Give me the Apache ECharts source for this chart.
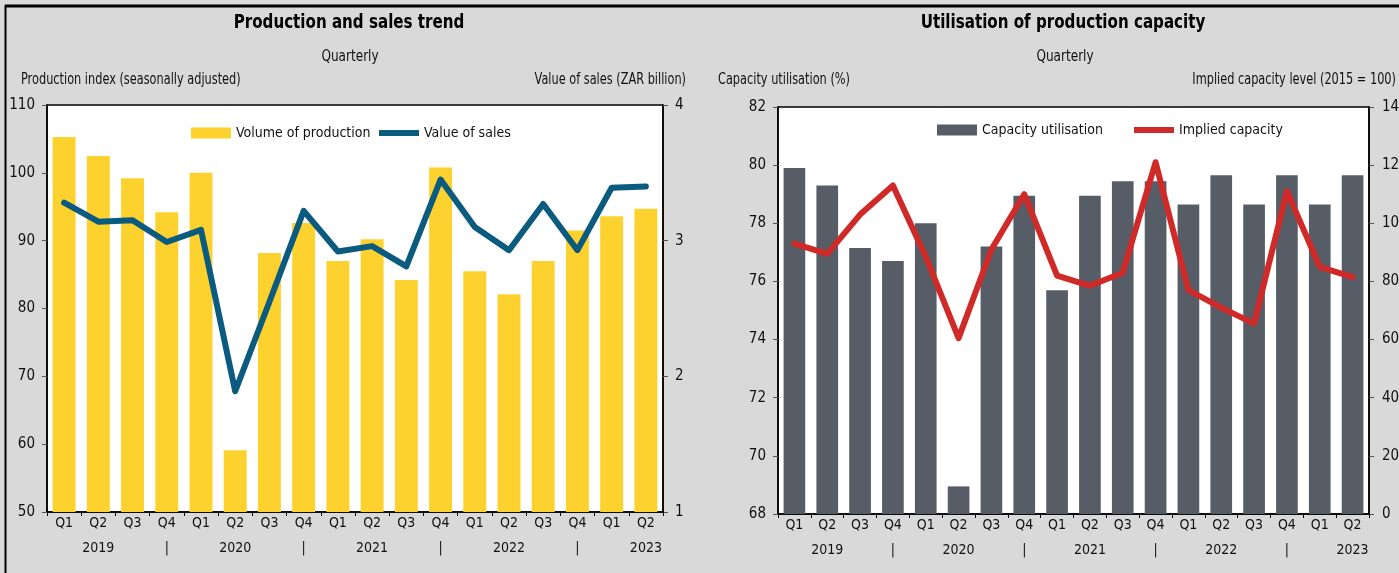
<!DOCTYPE html>
<html>
<head>
<meta charset="utf-8">
<title>Production, sales and capacity utilisation</title>
<script src="https://cdn.jsdelivr.net/npm/echarts@6/dist/echarts.min.js"></script>
<style>
  html, body { margin: 0; padding: 0; background: #d9d9d9; }
  #chart { width: 1399px; height: 573px; }
</style>
</head>
<body>
<div id="chart"></div>
<script>
// Quarterly periods, Q1 2019 to Q2 2023
const periods = ['2019Q1','2019Q2','2019Q3','2019Q4','2020Q1','2020Q2','2020Q3','2020Q4',
                 '2021Q1','2021Q2','2021Q3','2021Q4','2022Q1','2022Q2','2022Q3','2022Q4',
                 '2023Q1','2023Q2'];
const quarterLabels = ['Q1','Q2','Q3','Q4','Q1','Q2','Q3','Q4','Q1','Q2','Q3','Q4',
                       'Q1','Q2','Q3','Q4','Q1','Q2'];
const yearLabels = ['','2019','','|','','2020','','|','','2021','','|','','2022','','|','','2023'];

// Left panel: production volume index (SA) and value of sales (ZAR bn)
const productionVolume = [105.3, 102.5, 99.2, 94.2, 100.0, 59.1, 88.2, 92.6, 87.0,
                          90.2, 84.2, 100.8, 85.5, 82.1, 87.0, 91.5, 93.6, 94.7];
const salesValue = [3.28, 3.14, 3.15, 2.99, 3.08, 1.89, 2.55, 3.22, 2.92,
                    2.96, 2.81, 3.45, 3.10, 2.93, 3.27, 2.93, 3.39, 3.40];

// Right panel: capacity utilisation (%) and implied capacity level (2015 = 100)
const capacityUtilisation = [79.9, 79.3, 77.15, 76.7, 78.0, 68.95, 77.2, 78.95, 75.7,
                             78.95, 79.45, 79.45, 78.65, 79.65, 78.65, 79.65, 78.65, 79.65];
const impliedCapacity = [93, 89.5, 103, 113, 88.5, 60.5, 91, 110, 82,
                         78.5, 83, 121, 77, 71, 65.5, 111, 85, 81.5];

const FONT = "'Liberation Sans Narrow', 'Arial Narrow', 'DejaVu Sans Condensed', sans-serif";
const TXT = '#111';
const NARROW = 0.84;   // horizontal squeeze for heading text

function catAxis(gridIndex) {
  return {
    type: 'category', gridIndex, data: periods, boundaryGap: true,
    axisLine: { show: true, lineStyle: { color: '#000', width: 1.5 } },
    axisTick: { show: true, length: 4, lineStyle: { color: '#000' } },
    axisLabel: {
      color: TXT, fontFamily: FONT, fontSize: 14, lineHeight: 25, margin: -1,
      interval: 0,
      formatter: (v, i) => quarterLabels[i] + '\n' + (yearLabels[i] || ' ')
    }
  };
}

function valAxis(gridIndex, pos, min, max, interval, margin) {
  return {
    type: 'value', gridIndex, position: pos, min, max, interval,
    splitLine: { show: false },
    axisLine: { show: true, lineStyle: { color: '#000', width: 1.5 } },
    axisTick: { show: true, length: 5, lineStyle: { color: '#555' } },
    axisLabel: { color: TXT, fontFamily: FONT, fontSize: 15, margin }
  };
}

function heading(text, x, y, size, weight, align) {
  return {
    type: 'text', x, y, scaleX: NARROW, z: 50,
    style: {
      text, fill: weight === 'bold' ? '#000' : TXT,
      font: `${weight} ${size}px ${FONT}`,
      textAlign: align, textVerticalAlign: 'middle'
    }
  };
}

function legendItem(name, left, top, icon) {
  return {
    left, top, itemWidth: 40, itemHeight: 11,
    data: [{ name, icon }],
    textStyle: { fontFamily: FONT, fontSize: 14, color: TXT }
  };
}
const LINE_ICON = 'path://M0,0 L40,0 L40,6 L0,6 Z';

const chart = echarts.init(document.getElementById('chart'), null, { renderer: 'canvas' });

chart.setOption({
  backgroundColor: '#d9d9d9',
  animation: false,
  textStyle: { fontFamily: FONT },
  legend: [
    legendItem('Volume of production', 186, 121, 'rect'),
    legendItem('Value of sales', 374, 121, LINE_ICON),
    legendItem('Capacity utilisation', 932, 118, 'rect'),
    legendItem('Implied capacity', 1129, 118, LINE_ICON)
  ],
  grid: [
    { left: 47, top: 105, width: 616, height: 407, show: true, backgroundColor: '#fff',
      borderColor: '#000', borderWidth: 1.5, containLabel: false, outerBoundsMode: 'none' },
    { left: 778, top: 107, width: 591, height: 407, show: true, backgroundColor: '#fff',
      borderColor: '#000', borderWidth: 1.5, containLabel: false, outerBoundsMode: 'none' }
  ],
  xAxis: [catAxis(0), catAxis(1)],
  yAxis: [
    valAxis(0, 'left', 50, 110, 10, 12),
    valAxis(0, 'right', 1, 4, 1, 12),
    valAxis(1, 'left', 68, 82, 2, 12),
    valAxis(1, 'right', 0, 140, 20, 13)
  ],
  series: [
    { name: 'Volume of production', type: 'bar', xAxisIndex: 0, yAxisIndex: 0,
      data: productionVolume, barCategoryGap: '33%',
      itemStyle: { color: '#fdd22f' } },
    { name: 'Value of sales', type: 'line', xAxisIndex: 0, yAxisIndex: 1,
      data: salesValue, symbol: 'none', z: 5,
      lineStyle: { color: '#0b5a7f', width: 6, cap: 'round', join: 'round' },
      itemStyle: { color: '#0b5a7f' } },
    { name: 'Capacity utilisation', type: 'bar', xAxisIndex: 1, yAxisIndex: 2,
      data: capacityUtilisation, barCategoryGap: '34%',
      itemStyle: { color: '#575d67' } },
    { name: 'Implied capacity', type: 'line', xAxisIndex: 1, yAxisIndex: 3,
      data: impliedCapacity, symbol: 'none', z: 5,
      lineStyle: { color: '#cf2a27', width: 6, cap: 'round', join: 'round' },
      itemStyle: { color: '#cf2a27' } }
  ],
  graphic: [
    heading('Production and sales trend', 349, 23, 20, 'bold', 'center'),
    heading('Quarterly', 350, 57, 16, 'normal', 'center'),
    heading('Production index (seasonally adjusted)', 21, 80, 15, 'normal', 'left'),
    heading('Value of sales (ZAR billion)', 686, 80, 15, 'normal', 'right'),
    heading('Utilisation of production capacity', 1063, 23, 20, 'bold', 'center'),
    heading('Quarterly', 1065, 57, 16, 'normal', 'center'),
    heading('Capacity utilisation (%)', 718, 80, 15, 'normal', 'left'),
    heading('Implied capacity level (2015 = 100)', 1396, 80, 15, 'normal', 'right'),
    // outer panel frame (top and left edges)
    { type: 'line', shape: { x1: 5, y1: 6, x2: 1399, y2: 6 },
      style: { stroke: '#000', lineWidth: 3 }, z: 100 },
    { type: 'line', shape: { x1: 5.5, y1: 5, x2: 5.5, y2: 573 },
      style: { stroke: '#000', lineWidth: 2 }, z: 100 }
  ]
});
</script>
</body>
</html>
